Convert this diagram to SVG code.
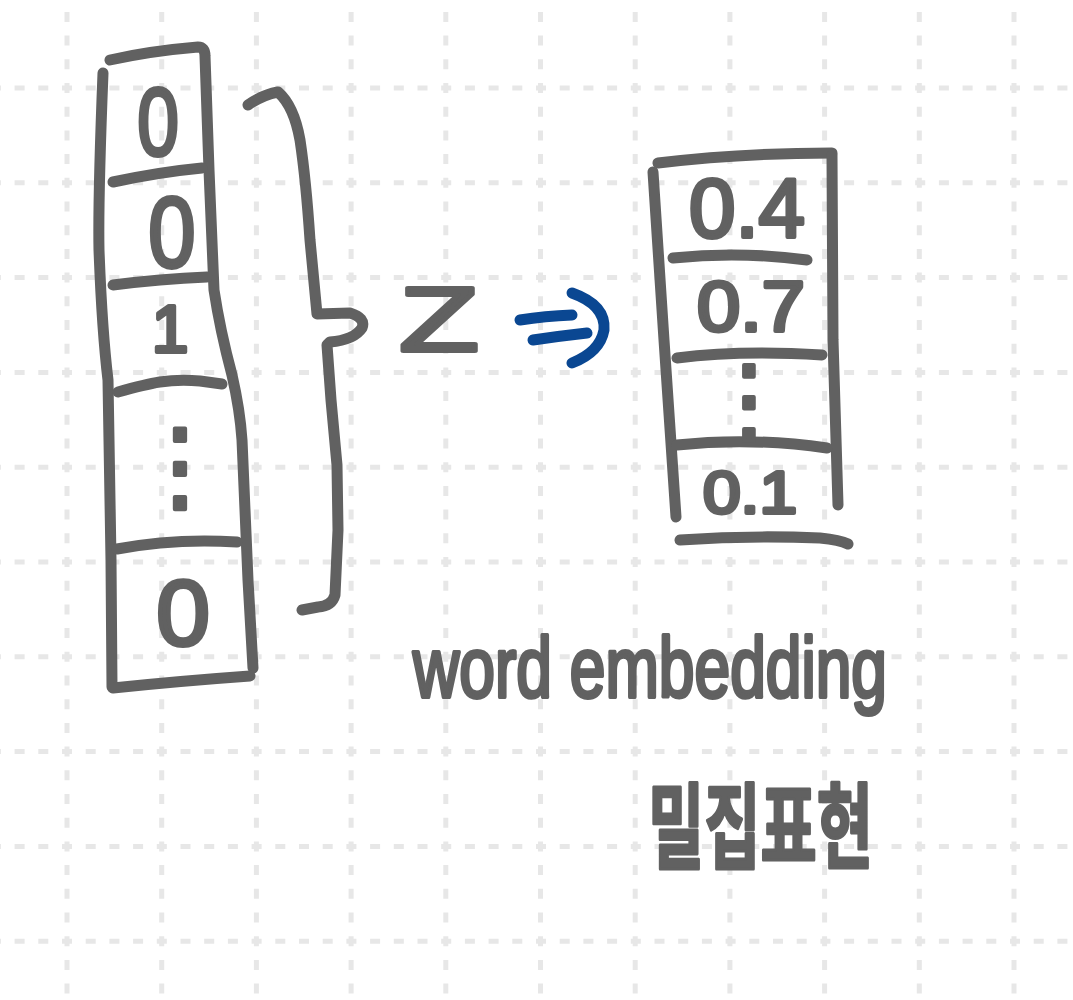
<svg xmlns="http://www.w3.org/2000/svg" width="1073" height="1000" viewBox="0 0 1073 1000">
<style>
.grid line { stroke:#e7e7e7; stroke-width:5; }
.gv { stroke-dasharray:10 13.7; stroke-dashoffset:11.8; }
.gh { stroke-dasharray:10 13.7; stroke-dashoffset:9.1; }
.ink { fill:none; stroke:#616161; stroke-width:11; stroke-linecap:round; stroke-linejoin:round; }
.blue { fill:none; stroke:#0a4792; stroke-width:11; stroke-linecap:round; stroke-linejoin:round; }
.t { font-family:"Liberation Sans", Arial, sans-serif; fill:#616161; stroke:#616161; stroke-width:4; stroke-linejoin:round; }
.dots { font-family:"DejaVu Sans", sans-serif; fill:#616161; stroke:#616161; stroke-width:4; stroke-linejoin:round; }
.ko { font-family:"Noto Sans CJK KR", sans-serif; font-weight:bold; fill:#616161; stroke:#616161; stroke-width:2; stroke-linejoin:round; }
</style>
<rect width="1073" height="1000" fill="#ffffff"/>
<g id="grid" class="grid">
<line class="gv" x1="67" y1="0" x2="67" y2="1000"/>
<line class="gv" x1="161.7" y1="0" x2="161.7" y2="1000"/>
<line class="gv" x1="256.4" y1="0" x2="256.4" y2="1000"/>
<line class="gv" x1="351.1" y1="0" x2="351.1" y2="1000"/>
<line class="gv" x1="445.8" y1="0" x2="445.8" y2="1000"/>
<line class="gv" x1="540.5" y1="0" x2="540.5" y2="1000"/>
<line class="gv" x1="635.2" y1="0" x2="635.2" y2="1000"/>
<line class="gv" x1="729.9" y1="0" x2="729.9" y2="1000"/>
<line class="gv" x1="824.6" y1="0" x2="824.6" y2="1000"/>
<line class="gv" x1="919.3" y1="0" x2="919.3" y2="1000"/>
<line class="gv" x1="1014" y1="0" x2="1014" y2="1000"/>
<line class="gh" x1="0" y1="88" x2="1073" y2="88"/>
<line class="gh" x1="0" y1="182.8" x2="1073" y2="182.8"/>
<line class="gh" x1="0" y1="277.6" x2="1073" y2="277.6"/>
<line class="gh" x1="0" y1="372.4" x2="1073" y2="372.4"/>
<line class="gh" x1="0" y1="467.2" x2="1073" y2="467.2"/>
<line class="gh" x1="0" y1="562" x2="1073" y2="562"/>
<line class="gh" x1="0" y1="656.8" x2="1073" y2="656.8"/>
<line class="gh" x1="0" y1="751.6" x2="1073" y2="751.6"/>
<line class="gh" x1="0" y1="846.4" x2="1073" y2="846.4"/>
<line class="gh" x1="0" y1="941.2" x2="1073" y2="941.2"/>
</g>
<g id="onehot">
<path class="ink" d="M110,60 Q150,51 198,47 Q205,47 205,56 L209,170 L214,290 Q220,330 232,375 Q240,410 242,440 L248,580 L253,668"/>
<path class="ink" d="M103,73 Q98,200 99,250 Q102,330 108,380 L111,560 L112,687"/>
<path class="ink" d="M113,688 Q180,681 250,676"/>
<path class="ink" d="M113,182 Q160,172 202,168"/>
<path class="ink" d="M113,285 Q160,279 207,277"/>
<path class="ink" d="M118,392 C150,383 170,378 200,381 Q215,383 222,384"/>
<path class="ink" d="M117,549 Q175,538 237,542"/>
<text class="t" transform="translate(158,155) scale(0.78,1)" font-size="96" text-anchor="middle">0</text>
<text class="t" transform="translate(172,267) scale(0.85,1)" font-size="100" text-anchor="middle">0</text>
<text class="t" x="170" y="352" font-size="66" text-anchor="middle">1</text>
<text class="dots" x="180" y="500" font-size="100" text-anchor="middle">⋮</text>
<text class="t" transform="translate(183,645) scale(1.05,1)" font-size="92" text-anchor="middle">0</text>
</g>
<g id="brace">
<path class="ink" d="M248,105 Q262,95 278,92 Q294,106 300,140 Q306,180 310,240 L317,314 L350,313 Q366,318 362,328 Q354,340 330,342 L327,345 L331,400 L337,465 L338,530 L335,595 Q332,606 318,607 L302,610"/>
</g>
<g id="z">
<text class="t" transform="translate(439,351) scale(1.45,1)" font-size="90" text-anchor="middle">Z</text>
</g>
<g id="embedding">
<path class="ink" d="M658,163 Q740,153 832,153"/>
<path class="ink" d="M653,172 L664,340 L676,517"/>
<path class="ink" d="M832,155 L833,340 L838,505"/>
<path class="ink" d="M673,258 Q740,251 807,260"/>
<path class="ink" d="M677,358 Q740,350 822,355"/>
<path class="ink" d="M677,445 Q750,437 827,448"/>
<path class="ink" d="M680,540 Q750,535 820,538 Q840,540 848,544"/>
<text class="t" x="689" y="237" font-size="84" textLength="116" lengthAdjust="spacingAndGlyphs">0.4</text>
<text class="t" x="697" y="331" font-size="70" textLength="108" lengthAdjust="spacingAndGlyphs">0.7</text>
<text class="dots" x="749" y="432" font-size="94" text-anchor="middle">⋮</text>
<text class="t" x="703" y="513" font-size="60" textLength="94" lengthAdjust="spacingAndGlyphs">0.1</text>
</g>
<g id="connectors">
<path class="blue" d="M520,320 Q545,316 572,315"/>
<path class="blue" d="M533,340 Q560,336 587,333"/>
<path class="blue" d="M572,293 Q606,305 604,330 Q600,352 572,363"/>
</g>
<g id="label-en">
<text class="t" x="413" y="697" font-size="86" textLength="474" lengthAdjust="spacingAndGlyphs">word embedding</text>
</g>
<g id="label-ko">
<text class="ko" transform="translate(648,861) scale(1,1.55)" font-size="60" textLength="225" lengthAdjust="spacingAndGlyphs">밀집표현</text>
</g>
</svg>
